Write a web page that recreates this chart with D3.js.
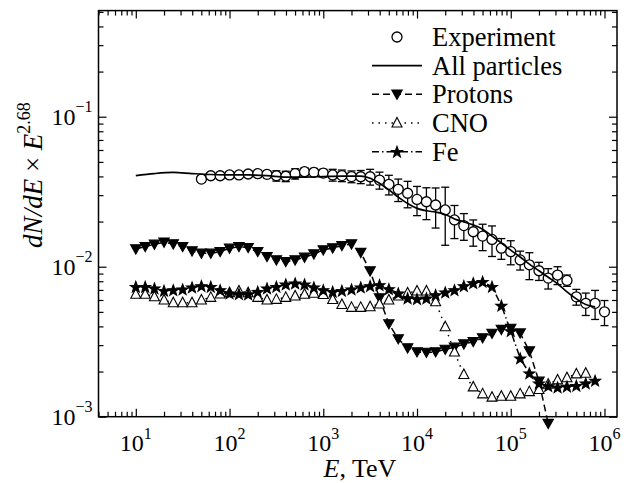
<!DOCTYPE html>
<html lang="en">
<head>
<meta charset="UTF-8">
<title>Energy spectrum</title>
<style>
  body { margin: 0; background: #fff; }
  svg text { font-family: "Liberation Serif", "Times New Roman", serif; fill: #000; }
  .axis line { stroke: #000; stroke-width: 1.2px; }
</style>
</head>
<body>
<div id="chart"></div>
<script src="https://d3js.org/d3.v7.min.js"></script>
<script>
// energies (TeV) of the 0.1-decade grid
const energies = [10, 12.6, 15.8, 20.0, 25.1, 31.6, 39.8, 50.1, 63.1, 79.4,
  100, 126, 158, 200, 251, 316, 398, 501, 631, 794,
  1000, 1260, 1580, 2000, 2510, 3160, 3980, 5010, 6310, 7940,
  1.00e4, 1.26e4, 1.58e4, 2.00e4, 2.51e4, 3.16e4, 3.98e4, 5.01e4, 6.31e4, 7.94e4,
  1.00e5, 1.26e5, 1.58e5, 2.00e5, 2.51e5, 3.16e5, 3.98e5, 5.01e5, 6.31e5, 7.94e5, 1.00e6];

// experiment, from 50 TeV to 1e6 TeV
const expFlux = [0.0384, 0.0404, 0.0404, 0.0409, 0.0409, 0.0415, 0.0417, 0.0413, 0.0404, 0.0401,
  0.0417, 0.0430, 0.0426, 0.0421, 0.0409, 0.0405, 0.0399, 0.0398, 0.0398, 0.0378,
  0.0354, 0.0328, 0.0309, 0.0281, 0.0271, 0.0258, 0.0239, 0.0205, 0.0188, 0.0171,
  0.0160, 0.0152, 0.0133, 0.0126, 0.0111, 0.0103, 0.0094, 0.0084, 0.0088, 0.0081,
  0.0063, 0.0057, 0.0057, 0.0050];
const expErr = [0.0019, 0.0020, 0.0020, 0.0020, 0.0020, 0.0021, 0.0021, 0.0021, 0.0032, 0.0032,
  0.0033, 0.0026, 0.0026, 0.0025, 0.0037, 0.0036, 0.0036, 0.0040, 0.0048, 0.0049,
  0.0053, 0.0056, 0.0062, 0.0062, 0.0065, 0.0077, 0.0100, 0.0051, 0.0038, 0.0034,
  0.0032, 0.0035, 0.0021, 0.0023, 0.0016, 0.0021, 0.0013, 0.0013, 0.0012, 0.0007,
  0.00076, 0.00097, 0.00125, 0.00095];
const expE = energies.slice(7, 7 + expFlux.length);

// all particles (solid curve)
const allE = [10, 15.8, 25.1, 39.8, 63.1, 100, 158, 251, 398, 631, 1000, 1580, 2510,
  3160, 3980, 5010, 6310, 7940,
  1.00e4, 1.26e4, 1.58e4, 2.00e4, 2.51e4, 3.16e4, 3.98e4, 5.01e4, 6.31e4, 7.94e4,
  1.00e5, 1.26e5, 1.58e5, 2.00e5, 2.51e5, 3.16e5, 3.98e5, 5.01e5, 6.31e5, 7.94e5];
const allFlux = [0.0405, 0.0418, 0.0425, 0.0418, 0.0412, 0.0409, 0.0409, 0.0405, 0.0396, 0.0396, 0.0399, 0.0402, 0.0402,
  0.0389, 0.0360, 0.0325, 0.0291, 0.0264,
  0.0245, 0.0236, 0.0231, 0.0223, 0.0208, 0.0199, 0.0190, 0.0178, 0.0160, 0.0144,
  0.0129, 0.0116, 0.0104, 0.0094, 0.0085, 0.0077, 0.0068, 0.0061, 0.0056, 0.0054];

// components, starting at 10 TeV
const protons = [0.01312, 0.01360, 0.01410, 0.01455, 0.01417, 0.01360, 0.01272, 0.01228, 0.01228, 0.01259,
  0.01326, 0.01360, 0.01338, 0.01259, 0.01166, 0.01108, 0.01080, 0.01108, 0.01155, 0.01215,
  0.01292, 0.01332, 0.01380, 0.01417, 0.01243, 0.00936, 0.00618, 0.00415, 0.00330, 0.00287,
  0.00270, 0.00268, 0.00270, 0.00281, 0.00290, 0.00305, 0.00316, 0.00335, 0.00359, 0.00381,
  0.00388, 0.00361, 0.00274, 0.00172, 0.00090];
const cno = [0.00655, 0.00655, 0.00631, 0.00600, 0.00575, 0.00575, 0.00575, 0.00600, 0.00625, 0.00658,
  0.00671, 0.00689, 0.00671, 0.00625, 0.00600, 0.00606, 0.00625, 0.00638, 0.00655, 0.00665,
  0.00653, 0.00605, 0.00560, 0.00536, 0.00536, 0.00541, 0.00564, 0.00600, 0.00638, 0.00668,
  0.00689, 0.00689, 0.00584, 0.00398, 0.00270, 0.00191, 0.00158, 0.00142, 0.00135, 0.00137,
  0.00137, 0.00142, 0.00147, 0.00152, 0.00165, 0.00176, 0.00182, 0.00193, 0.00195];
const fe = [0.00736, 0.00736, 0.00718, 0.00692, 0.00699, 0.00707, 0.00729, 0.00744, 0.00736, 0.00699,
  0.00665, 0.00658, 0.00655, 0.00681, 0.00718, 0.00736, 0.00763, 0.00775, 0.00763, 0.00729,
  0.00699, 0.00681, 0.00692, 0.00707, 0.00729, 0.00744, 0.00755, 0.00710, 0.00665, 0.00616,
  0.00609, 0.00616, 0.00648, 0.00675, 0.00699, 0.00744, 0.00778, 0.00794, 0.00736, 0.00551,
  0.00373, 0.00245, 0.00195, 0.00167, 0.00160, 0.00157, 0.00159, 0.00161, 0.00167, 0.00174];

const legendLabels = ["Experiment", "All particles", "Protons", "CNO", "Fe"];
const xTickExp = [1, 2, 3, 4, 5, 6];
const yTickExp = [-3, -2, -1];
const xDomain = [4, 1.36e6];
const yDomain = [1e-3, 0.51];

const W = 628, H = 483;
const plot = { left: 98.5, right: 617, top: 10.6, bottom: 416.7 };

const svg = d3.select('#chart').append('svg')
    .attr('width', W)
    .attr('height', H);

const x = d3.scaleLog().domain(xDomain).range([plot.left, plot.right]);
const y = d3.scaleLog().domain(yDomain).range([plot.bottom, plot.top]);

const isMajor = v => Math.abs(Math.log10(v) - Math.round(Math.log10(v))) < 1e-6;
const xMinor = x.ticks().filter(v => !isMajor(v));
const yMinor = y.ticks().filter(v => !isMajor(v));
const xMajor = xTickExp.map(e => Math.pow(10, e));
const yMajor = yTickExp.map(e => Math.pow(10, e));

// inward ticks on all four sides
const addTicks = (axisFn, scale, vals, size, transform) => {
    svg.append('g')
        .attr('class', 'axis')
        .attr('transform', transform)
        .call(axisFn(scale).tickValues(vals).tickSize(size).tickSizeOuter(0).tickFormat(''))
        .call(g => g.select('.domain').remove());
};
addTicks(d3.axisBottom, x, xMinor, -5, `translate(0,${plot.bottom})`);
addTicks(d3.axisBottom, x, xMajor, -8, `translate(0,${plot.bottom})`);
addTicks(d3.axisTop, x, xMinor, -5, `translate(0,${plot.top})`);
addTicks(d3.axisTop, x, xMajor, -8, `translate(0,${plot.top})`);
addTicks(d3.axisLeft, y, yMinor, -5, `translate(${plot.left},0)`);
addTicks(d3.axisLeft, y, yMajor, -8, `translate(${plot.left},0)`);
addTicks(d3.axisRight, y, yMinor, -5, `translate(${plot.right},0)`);
addTicks(d3.axisRight, y, yMajor, -8, `translate(${plot.right},0)`);

svg.append('rect')
    .attr('x', plot.left)
    .attr('y', plot.top)
    .attr('width', plot.right - plot.left)
    .attr('height', plot.bottom - plot.top)
    .attr('fill', 'none')
    .attr('stroke', '#000')
    .attr('stroke-width', 1.5);

// tick labels 10^n
xTickExp.forEach(e => {
    const t = svg.append('text')
        .attr('x', x(Math.pow(10, e)))
        .attr('y', plot.bottom + 34)
        .attr('text-anchor', 'middle')
        .style('font-size', '24px');
    t.append('tspan').text('10');
    t.append('tspan').attr('dy', -12).style('font-size', '16px').text(e);
});
yTickExp.forEach(e => {
    const t = svg.append('text')
        .attr('x', plot.left - 6)
        .attr('y', y(Math.pow(10, e)) + 8)
        .attr('text-anchor', 'end')
        .style('font-size', '24px');
    t.append('tspan').text('10');
    t.append('tspan').attr('dy', -13).style('font-size', '16px').text('\u2212' + Math.abs(e));
});

// axis titles
const xt = svg.append('text')
    .attr('x', 360)
    .attr('y', 477)
    .attr('text-anchor', 'middle')
    .style('font-size', '26px');
xt.append('tspan').style('font-style', 'italic').text('E');
xt.append('tspan').text(', TeV');

const yt = svg.append('text')
    .attr('transform', 'translate(42,175) rotate(-90)')
    .attr('text-anchor', 'middle')
    .style('font-size', '27px');
yt.append('tspan').style('font-style', 'italic').text('dN/dE');
yt.append('tspan').text(' \u00d7 ');
yt.append('tspan').style('font-style', 'italic').text('E');
yt.append('tspan').attr('dy', -12).style('font-size', '18px').text('2.68');

// marker shapes
const downTri = 'M-5.2,-4.2L5.2,-4.2L0,5Z';
const upTri = 'M-5,4L5,4L0,-5.5Z';
const starPath = (() => {
    const pts = [];
    for (let i = 0; i < 10; i++) {
        const r = i % 2 === 0 ? 5.8 : 2.4;
        const a = -Math.PI / 2 + i * Math.PI / 5;
        pts.push([r * Math.cos(a), r * Math.sin(a) + 0.5]);
    }
    return 'M' + pts.map(p => p.join(',')).join('L') + 'Z';
})();

const lineGen = d3.line().x(d => x(d[0])).y(d => y(d[1]));

const series = [
    { values: protons, dash: '7,4', marker: downTri, fill: '#000' },
    { values: cno, dash: '1.5,5', marker: upTri, fill: '#fff' },
    { values: fe, dash: '7,3,1.5,3', marker: starPath, fill: '#000' }
];

series.forEach(s => {
    const pts = s.values.map((v, i) => [energies[i], v]);
    svg.append('path')
        .datum(pts)
        .attr('d', lineGen)
        .attr('fill', 'none')
        .attr('stroke', '#000')
        .attr('stroke-width', 1.5)
        .attr('stroke-dasharray', s.dash);
    svg.append('g').selectAll('path')
        .data(pts)
        .join('path')
        .attr('transform', d => `translate(${x(d[0])},${y(d[1])})`)
        .attr('d', s.marker)
        .attr('fill', s.fill)
        .attr('stroke', '#000')
        .attr('stroke-width', 1.1);
});

// experiment with error bars
const expPts = expFlux.map((v, i) => ({ e: expE[i], v: v, err: expErr[i] }));
const bars = svg.append('g').attr('stroke', '#000').attr('stroke-width', 1.3);
expPts.forEach(d => {
    const cx = x(d.e), y1 = y(d.v + d.err), y2 = y(d.v - d.err);
    bars.append('line').attr('x1', cx).attr('x2', cx).attr('y1', y1).attr('y2', y2);
    bars.append('line').attr('x1', cx - 4).attr('x2', cx + 4).attr('y1', y1).attr('y2', y1);
    bars.append('line').attr('x1', cx - 4).attr('x2', cx + 4).attr('y1', y2).attr('y2', y2);
});
svg.append('g').selectAll('circle')
    .data(expPts)
    .join('circle')
    .attr('cx', d => x(d.e))
    .attr('cy', d => y(d.v))
    .attr('r', 5)
    .attr('fill', '#fff')
    .attr('stroke', '#000')
    .attr('stroke-width', 1.3);

// all particles curve on top
svg.append('path')
    .datum(allFlux.map((v, i) => [allE[i], v]))
    .attr('d', lineGen.curve(d3.curveMonotoneX))
    .attr('fill', 'none')
    .attr('stroke', '#000')
    .attr('stroke-width', 1.7);

// legend
const legend = svg.append('g');
const rowY = [37, 65.7, 94.3, 123, 151.7];
const lx0 = 372, lx1 = 422, lxm = 397;
legendLabels.forEach((label, i) => {
    legend.append('text')
        .attr('x', 432)
        .attr('y', rowY[i] + 9)
        .style('font-size', '26.5px')
        .text(label);
});
legend.append('circle').attr('cx', lxm).attr('cy', rowY[0]).attr('r', 5)
    .attr('fill', '#fff').attr('stroke', '#000').attr('stroke-width', 1.3);
legend.append('line').attr('x1', lx0).attr('x2', lx1).attr('y1', rowY[1]).attr('y2', rowY[1])
    .attr('stroke', '#000').attr('stroke-width', 1.7);
series.forEach((s, i) => {
    const yy = rowY[i + 2];
    legend.append('line').attr('x1', lx0).attr('x2', lx1).attr('y1', yy).attr('y2', yy)
        .attr('stroke', '#000').attr('stroke-width', 1.5).attr('stroke-dasharray', s.dash);
    legend.append('path').attr('transform', `translate(${lxm},${yy})`).attr('d', s.marker)
        .attr('fill', s.fill).attr('stroke', '#000').attr('stroke-width', 1.1);
});
</script>
</body>
</html>
